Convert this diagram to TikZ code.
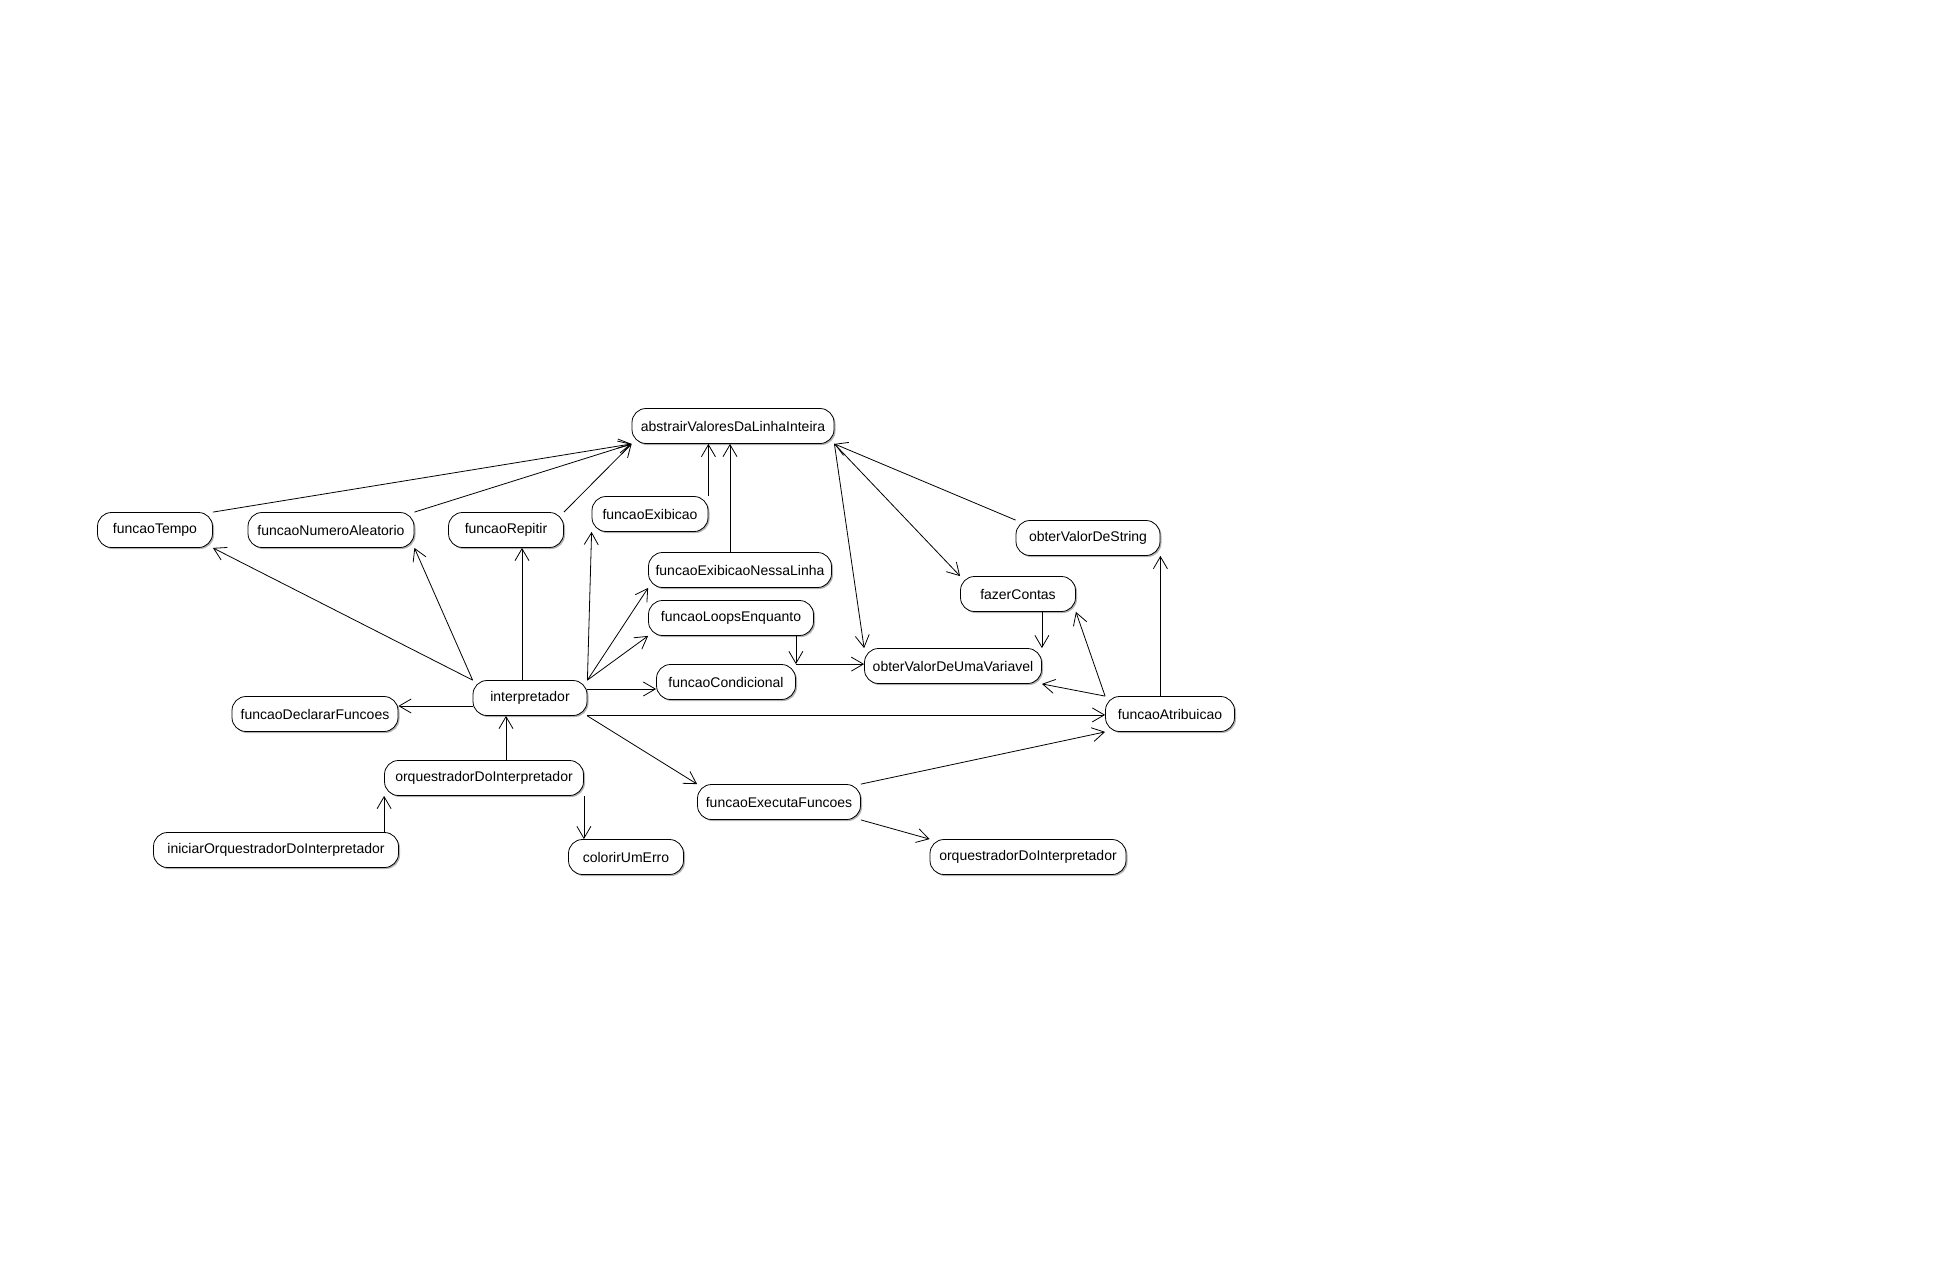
\documentclass[tikz,border=0pt]{standalone}
\usepackage{fontspec}
\setmainfont{Liberation Sans}
\usetikzlibrary{arrows.meta,shadows}

\begin{document}
\begin{tikzpicture}[x=1pt, y=-1pt,
    fn/.style={draw, thick, rounded corners=14pt, minimum height=35pt, inner xsep=3pt, fill=white,
        font=\fontsize{14}{16}\selectfont, general shadow={fill=gray!60, shadow xshift=1.5pt, shadow yshift=-1.5pt}},
    arr/.style={-{Straight Barb[length=12pt,width=14pt]}, line width=0.8pt}]
    \useasboundingbox (0,0) rectangle (1954,1283);
    \node[fn, minimum width=202pt] (abstrair) at (733, 426) {abstrairValoresDaLinhaInteira};
    \node[fn, minimum width=115pt] (tempo) at (155, 530) {funcaoTempo};
    \node[fn, minimum width=166pt] (aleatorio) at (331, 530) {funcaoNumeroAleatorio};
    \node[fn, minimum width=115pt] (repitir) at (506, 530) {funcaoRepitir};
    \node[fn, minimum width=116pt] (exibicao) at (650, 514) {funcaoExibicao};
    \node[fn, minimum width=183pt] (exibLinha) at (740, 570) {funcaoExibicaoNessaLinha};
    \node[fn, minimum width=165pt] (loops) at (731, 618) {funcaoLoopsEnquanto};
    \node[fn, minimum width=139pt] (condicional) at (726, 682) {funcaoCondicional};
    \node[fn, minimum width=177pt] (obterVar) at (953, 666) {obterValorDeUmaVariavel};
    \node[fn, minimum width=115pt] (contas) at (1018, 594) {fazerContas};
    \node[fn, minimum width=144pt] (obterStr) at (1088, 538) {obterValorDeString};
    \node[fn, minimum width=129pt] (atribuicao) at (1170, 714) {funcaoAtribuicao};
    \node[fn, minimum width=114pt] (interp) at (530, 698) {interpretador};
    \node[fn, minimum width=166pt] (declarar) at (315, 714) {funcaoDeclararFuncoes};
    \node[fn, minimum width=199pt] (orq) at (484, 778) {orquestradorDoInterpretador};
    \node[fn, minimum width=245pt] (iniciar) at (276, 850) {iniciarOrquestradorDoInterpretador};
    \node[fn, minimum width=115pt] (colorir) at (626, 857) {colorirUmErro};
    \node[fn, minimum width=163pt] (executa) at (779, 802) {funcaoExecutaFuncoes};
    \node[fn, minimum width=196pt] (orqB) at (1028, 857) {orquestradorDoInterpretador};
    \draw[arr] (tempo.north east) -- (abstrair.south west);
    \draw[arr] (aleatorio.north east) -- (abstrair.south west);
    \draw[arr] (repitir.north east) -- (abstrair.south west);
    \draw[arr] (exibicao.north east) -- (exibicao.north east |- abstrair.south);
    \draw[arr] ([xshift=-10pt]exibLinha.north) -- ([xshift=-10pt]exibLinha.north |- abstrair.south);
    \draw[arr] (interp.north west) -- (tempo.south east);
    \draw[arr] (interp.north west) -- (aleatorio.south east);
    \draw[arr] ([xshift=-8pt]interp.north) -- ([xshift=-8pt]interp.north |- repitir.south);
    \draw[arr] (interp.north east) -- (exibicao.south west);
    \draw[arr] (interp.north east) -- (exibLinha.south west);
    \draw[arr] (interp.north east) -- (loops.south west);
    \draw[arr] ([yshift=9pt]interp.east) -- ([yshift=9pt]interp.east -| condicional.west);
    \draw[arr] ([yshift=1pt]interp.south east) -- ([yshift=1pt]interp.south east -| atribuicao.west);
    \draw[arr] ([yshift=-8pt]interp.west) -- ([yshift=-8pt]interp.west -| declarar.east);
    \draw[arr] (interp.south east) -- (executa.north west);
    \draw[arr] ([xshift=22pt]orq.north) -- ([xshift=22pt]orq.north |- interp.south);
    \draw[arr] (orq.south west |- iniciar.north) -- (orq.south west);
    \draw[arr] (orq.south east) -- (orq.south east |- colorir.north);
    \draw[arr] (executa.north east) -- (atribuicao.south west);
    \draw[arr] (executa.south east) -- (orqB.north west);
    \draw[arr] (obterStr.north west) -- (abstrair.south east);
    \draw[arr] (abstrair.south east) -- (contas.north west);
    \draw[arr] (abstrair.south east) -- (obterVar.north west);
    \draw[arr] (obterVar.north east |- contas.south) -- (obterVar.north east);
    \draw[arr] (atribuicao.north west) -- (contas.south east);
    \draw[arr] (atribuicao.north west) -- (obterVar.south east);
    \draw[arr] (obterStr.south east |- atribuicao.north) -- (obterStr.south east);
    \draw[arr] (condicional.north east |- loops.south) -- (condicional.north east);
    \draw[arr] (condicional.north east) -- (condicional.north east -| obterVar.west);
\end{tikzpicture}
\end{document}
